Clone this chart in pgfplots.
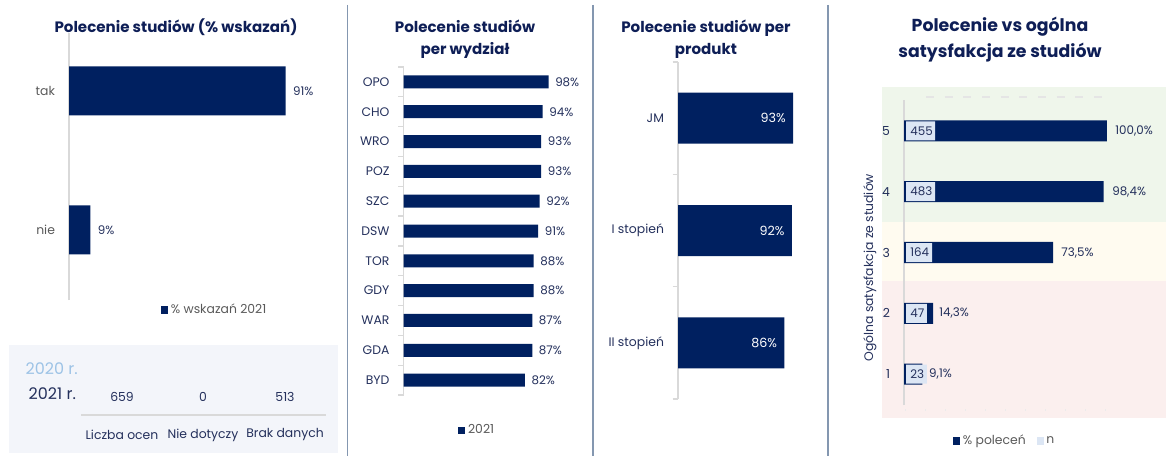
\documentclass[border=0pt]{standalone}
\usepackage{pgfplots}
\pgfplotsset{compat=1.18}
\usepackage{fontspec}
\setmainfont{Poppins}
\definecolor{navy}{RGB}{0,32,96}
\definecolor{ttl}{RGB}{14,30,86}
\definecolor{lbl}{RGB}{36,48,92}
\definecolor{gtxt}{RGB}{89,89,89}
\definecolor{sep}{RGB}{132,151,176}
\definecolor{axgrey}{RGB}{217,217,217}
\definecolor{lightn}{RGB}{220,230,244}
\definecolor{bandg}{RGB}{239,246,235}
\definecolor{bandy}{RGB}{255,251,240}
\definecolor{bandr}{RGB}{251,239,238}
\definecolor{panel}{RGB}{243,245,250}
\definecolor{old}{RGB}{157,195,230}
\newcommand{\fttl}{\fontsize{11.3}{16.5}\selectfont\bfseries}
\newcommand{\flab}{\fontsize{9.3}{11}\selectfont}
\newcommand{\fval}{\fontsize{8.9}{10}\selectfont}
\pgfplotsset{
  panel/.style={scale only axis, anchor=north west, clip=false,
    axis x line=none, axis y line*=left,
    axis line style={axgrey, line width=0.9pt, -},
    xmin=0, major tick length=0pt,
    tick style={axgrey, line width=0.9pt},
    /pgf/number format/assume math mode=true,
    yticklabel style={font=\flab, text=lbl, xshift=-7pt},
    legend style={draw=none, fill=none, font=\flab, text=gtxt,
      /tikz/every even column/.append style={column sep=6pt}},
  },
  sq/.style={legend image code/.code={\fill[##1] (0pt,-2.7pt) rectangle (5.4pt,2.7pt);}},
}
\begin{document}
\begin{tikzpicture}[x=0.75pt,y=-0.75pt]
\path[use as bounding box] (0,0) rectangle (1166,456);

% separators
\foreach \sx in {347.5,593,828}{\draw[sep, line width=1.1pt] (\sx,5) -- (\sx,456);}

% titles
\node[ttl, font=\fttl] at (176,27.5) {Polecenie studiów (\% wskazań)};
\node[ttl, font=\fttl, align=center] at (465,39) {Polecenie studiów\\per wydział};
\node[ttl, font=\fttl, align=center] at (706,39) {Polecenie studiów per\\produkt};
\node[ttl, font=\fontsize{13}{19.5}\selectfont\bfseries, align=center] at (1000,39.5) {Polecenie vs ogólna\\satysfakcja ze studiów};

% chart 1
\begin{axis}[panel, at={(51.75pt,-24.75pt)}, width=173.25pt, height=200.25pt,
  xmax=97, ymin=-0.504, ymax=1.417, ytick={0,1}, yticklabels={nie,tak},
  yticklabel style={text=gtxt},
  legend style={at={(0.632,-0.0375)}, anchor=center}]
\addplot[xbar, bar width=36.75pt, fill=navy, draw=none, sq,
  point meta=x, nodes near coords={\pgfmathprintnumber{\pgfplotspointmeta}\%},
  every node near coord/.append style={font=\fval, text=lbl, xshift=2pt}]
  coordinates {(91,1) (9,0)};
\addlegendentry{\% wskazań 2021}
\end{axis}

% bottom-left panel
\fill[panel] (9,345) rectangle (338,453);
\node[old, font=\fontsize{12}{14}\selectfont, anchor=west] at (21,369) {2020 r.};
\node[lbl, font=\fontsize{12}{14}\selectfont, anchor=west] at (24,394) {2021 r.};
\node[lbl, font=\flab] at (122,397) {659};
\node[lbl, font=\flab] at (203,397) {0};
\node[lbl, font=\flab] at (285,397) {513};
\draw[axgrey, line width=0.8pt] (81,415) -- (326,415);
\node[lbl, font=\flab] at (122,435) {Liczba ocen};
\node[lbl, font=\flab] at (203,435) {Nie dotyczy};
\node[lbl, font=\flab] at (285,435) {Brak danych};

% chart 2
\begin{axis}[panel, at={(302.625pt,-50.25pt)}, width=111pt, height=246pt,
  xmax=100, ymin=-0.5, ymax=10.5, y dir=reverse,
  ytick={0,...,10}, yticklabels={OPO,CHO,WRO,POZ,SZC,DSW,TOR,GDY,WAR,GDA,BYD},
  extra y ticks={-0.5,0.5,...,10.5}, extra y tick labels={},
  extra y tick style={major tick length=4pt, tick align=outside},
  legend style={at={(0.5,-0.107)}, anchor=center}]
\addplot[xbar, bar width=9.75pt, fill=navy, draw=none, sq,
  point meta=x, nodes near coords={\pgfmathprintnumber{\pgfplotspointmeta}\%},
  every node near coord/.append style={font=\fval, text=lbl, xshift=1.5pt}]
  coordinates {(98,0) (94,1) (93,2) (93,3) (92,4) (91,5) (88,6) (88,7) (87,8) (87,9) (82,10)};
\addlegendentry{2021}
\end{axis}

% chart 3
\begin{axis}[panel, at={(508.5pt,-46.5pt)}, width=112.5pt, height=252.75pt,
  xmax=121.3, ymin=-0.5, ymax=2.5, y dir=reverse,
  ytick={0,1,2}, yticklabels={JM,I stopień,II stopień},
  extra y ticks={-0.5,0.5,1.5,2.5}, extra y tick labels={},
  extra y tick style={major tick length=4pt, tick align=outside}]
\addplot[xbar, bar width=38.25pt, fill=navy, draw=none,
  point meta=x, nodes near coords={\pgfmathprintnumber{\pgfplotspointmeta}\%},
  every node near coord/.append style={font=\fontsize{9.5}{11}\selectfont, text=white, anchor=east, xshift=-2pt}]
  coordinates {(93,0) (92,1) (86,2)};
\end{axis}

% chart 4 background
\fill[bandg] (882,87) rectangle (1166,222);
\fill[bandy] (882,222) rectangle (1166,281);
\fill[bandr] (882,281) rectangle (1166,418);
\draw[black!10, line width=0.8pt, dash pattern=on 6pt off 8pt] (926,97) -- (1112,97);
\draw[black!8, line width=0.8pt, dash pattern=on 1pt off 14pt] (905,410) -- (1112,410);

\begin{axis}[panel, at={(678pt,-75pt)}, width=187.5pt, height=228.75pt,
  xmax=123.2, ymin=0.49, ymax=5.51, ytick={1,...,5},
  ylabel={Ogólna satysfakcja ze studiów},
  ylabel style={at={(axis description cs:-0.136,0.45)}, anchor=center, font=\flab, text=lbl}]
\addplot[xbar, bar width=15.75pt, fill=navy, draw=none]
  coordinates {(100,5) (98.4,4) (73.5,3) (14.3,2) (9.1,1)};
\end{axis}

\begin{axis}[panel, at={(678pt,-75pt)}, width=187.5pt, height=228.75pt,
  hide axis, xmin=-1, xmax=122.2, ymin=0.49, ymax=5.51,
  legend style={at={(0.404,-0.118)}, anchor=center}, legend columns=2]
\addlegendimage{sq, fill=navy, draw=none}
\addlegendentry{\% poleceń}
\addplot[xbar, bar width=14.25pt, fill=lightn, draw=none, sq]
  coordinates {(14.3,5) (14.3,4) (12.8,3) (10.3,2) (10.3,1)};
\addlegendentry{n}
\addplot[draw=none, mark=none, forget plot, point meta=explicit symbolic,
  nodes near coords, every node near coord/.append style={font=\fval, text=lbl, anchor=west, inner sep=0pt}]
  coordinates {(2,5) [455] (2,4) [483] (2,3) [164] (2,2) [47] (2,1) [23]};
\addplot[draw=none, mark=none, forget plot, point meta=explicit symbolic,
  nodes near coords, every node near coord/.append style={font=\fval, text=lbl, anchor=west, inner sep=0pt}]
  coordinates {(103,5) [100{,}0\%] (101.5,4) [98{,}4\%] (76.4,3) [73{,}5\%] (16.3,2) [14{,}3\%] (11.3,1) [9{,}1\%]};
\end{axis}
\end{tikzpicture}
\end{document}
